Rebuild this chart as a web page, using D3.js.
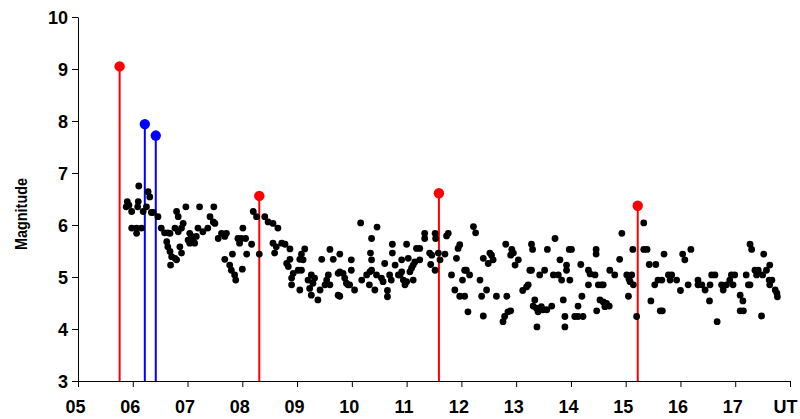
<!DOCTYPE html>
<html>
<head>
<meta charset="utf-8">
<script src="https://cdn.jsdelivr.net/npm/d3@7"></script>
<style>
  body { margin: 0; background: #fff; }
  text { font-family: "Liberation Sans", Arial, sans-serif; font-weight: bold; fill: #000; }
</style>
</head>
<body>
<div id="chart"></div>
<script>
// axis ticks
var yTicks = [3, 4, 5, 6, 7, 8, 9, 10];
var xTicks = [5, 6, 7, 8, 9, 10, 11, 12, 13, 14, 15, 16, 17, 18];
var xTickLabels = ["05", "06", "07", "08", "09", "10", "11", "12", "13", "14", "15", "16", "17", "UT"];

// big events: [UT hour, magnitude]
var redEvents = [[5.76, 9.05], [8.31, 6.56], [11.59, 6.61], [15.22, 6.37]];
var blueEvents = [[6.22, 7.94], [6.42, 7.72]];

// aftershocks: [UT hour, magnitude]
var dots = [
  [6.11,6.75],[6.28,6.64],[6.31,6.54],[5.90,6.45],[5.88,6.35],[5.93,6.38],[6.10,6.45],[6.09,6.35],
  [5.98,6.26],[6.19,6.26],[6.25,6.35],[6.34,6.24],[6.37,6.24],[6.46,6.16],[5.98,5.94],[6.07,5.94],
  [6.16,5.94],[6.07,5.84],[6.52,5.94],[6.58,5.85],[6.64,5.85],[6.68,5.84],[6.62,5.68],[6.64,5.58],
  [6.68,5.49],[6.71,5.39],[6.77,5.36],[6.69,5.23],[6.86,5.58],[6.89,5.46],[6.80,5.33],[6.80,6.26],
  [6.83,6.16],[6.97,6.35],[6.77,5.94],[6.83,5.87],[6.89,5.94],[6.92,6.03],[7.04,5.84],[7.07,5.78],
  [7.01,5.71],[7.10,5.68],[7.16,5.78],[7.13,5.65],[7.04,5.65],[7.22,6.35],[7.19,5.94],[7.28,5.87],
  [7.37,5.94],[7.41,6.16],[7.47,6.06],[7.50,6.03],[7.48,6.35],[7.56,5.74],[7.62,5.84],[7.68,5.78],
  [7.71,5.84],[7.68,5.34],[7.82,5.44],[7.77,5.23],[7.80,5.13],[7.86,5.04],[7.88,4.94],[8.00,5.15],
  [7.92,5.74],[7.98,5.74],[8.06,5.74],[7.95,5.65],[8.01,5.94],[8.08,5.44],[8.17,5.63],[8.31,5.44],
  [8.20,6.26],[8.26,6.16],[8.41,6.16],[8.47,6.06],[8.56,6.03],[8.65,5.94],[8.56,5.65],[8.62,5.58],
  [8.72,5.65],[8.78,5.63],[8.59,5.46],[8.87,5.54],[8.87,5.34],[8.81,5.26],[8.84,5.20],[9.14,5.54],
  [9.08,5.44],[9.05,5.34],[9.11,5.33],[9.02,5.13],[9.08,5.13],[8.93,5.07],[8.90,4.98],[8.90,4.85],
  [9.05,4.75],[9.26,5.04],[9.32,4.98],[9.20,4.94],[9.29,4.88],[9.23,4.78],[9.26,4.65],[9.42,4.75],
  [9.38,4.56],[9.45,5.34],[9.60,5.53],[9.66,5.34],[9.57,5.04],[9.54,4.94],[9.60,4.85],[9.51,4.85],
  [9.75,5.07],[9.75,4.65],
  [9.78,5.44],[9.78,5.10],[9.84,5.07],[9.87,4.98],[9.90,4.88],[9.93,4.85],[9.96,4.85],[9.78,4.63],
  [9.99,5.33],[9.99,5.13],[10.05,4.75],[10.16,6.04],[10.18,4.94],[10.27,5.04],[10.33,5.10],[10.36,5.13],
  [10.32,4.85],[10.42,4.75],[10.36,5.74],[10.34,5.46],[10.36,5.33],[10.46,5.96],[10.45,5.04],[10.54,4.98],
  [10.57,4.91],[10.60,5.26],[10.65,4.74],[10.65,4.62],[10.69,5.04],[10.72,4.94],[10.74,5.63],[10.74,5.46],
  [10.79,5.23],[10.85,5.04],[10.88,5.04],[10.91,5.33],[10.91,5.10],[10.94,4.94],[10.97,4.85],[11.00,4.91],
  [11.00,5.63],[11.03,5.36],[11.06,5.10],[11.09,5.17],[11.12,5.23],[11.15,5.29],[11.12,4.94],[11.18,5.55],
  [11.24,5.55],[11.24,5.33],[11.33,5.84],[11.33,5.74],[11.42,5.46],[11.46,5.42],[11.44,5.24],[11.52,5.13],
  [11.52,5.84],[11.53,5.74],[11.58,5.46],[11.61,5.33],[11.70,5.44],[11.73,5.79],[11.76,5.84],[11.82,5.04],
  [11.88,4.75],[11.97,4.63],[12.06,4.63],[11.91,5.36],[11.94,5.55],[11.97,5.62],[12.02,4.94],[12.06,5.13],
  [12.09,5.13],[12.12,4.33],[12.15,5.04],[12.22,5.97],[12.26,5.85],[12.34,4.94],[12.37,4.63],[12.40,4.25],
  [12.46,4.75],[12.40,5.36],[12.49,5.26],[12.55,5.42],[12.58,5.33],[12.52,5.46],[12.64,4.63],[12.76,4.14],
  [12.79,4.24],[12.85,4.33],[12.90,4.35],[12.83,4.63],[12.81,5.63],[12.92,5.53],[12.95,5.46],[12.90,5.42],
  [13.04,5.33],[12.98,5.23],[13.12,4.74],[13.19,4.81],[13.22,4.85],[13.25,5.13],[13.28,5.13],[13.28,5.63],
  [13.30,5.53],[13.34,4.56],[13.31,4.44],[13.37,4.40],[13.40,4.33],[13.46,4.43],[13.49,4.37],[13.56,4.37],
  [13.65,4.44],[13.38,4.04],[13.43,5.04],[13.52,5.13],[13.57,5.53],[13.71,5.74],[13.68,5.04],[13.77,5.04],
  [13.83,4.94],[13.80,5.33],[13.86,4.56],[13.89,4.24],[13.89,4.04],[13.92,5.23],[13.92,5.13],[13.97,5.53],
  [14.01,5.53],[13.98,4.94],[14.07,4.24],[14.13,4.24],[14.22,4.24],[14.13,4.44],[14.20,4.63],[14.18,5.24],
  [14.32,5.13],[14.35,5.06],[14.44,5.04],[14.32,4.85],[14.46,5.53],[14.46,5.44],[14.50,4.85],[14.56,4.85],
  [14.59,4.85],[14.47,4.35],[14.53,4.56],[14.59,4.52],[14.62,4.43],[14.65,4.49],[14.70,4.44],[14.71,5.13],
  [14.80,5.04],[14.89,5.34],[14.93,5.84],[15.02,5.04],[15.06,4.96],[15.11,5.04],[15.08,4.91],[15.13,5.53],
  [15.05,4.63],[15.14,4.85],[15.20,4.24],[15.33,6.04],[15.33,5.53],[15.39,5.53],[15.43,5.24],[15.55,5.24],
  [15.46,4.54],[15.53,4.85],[15.59,4.94],[15.66,4.94],[15.63,4.35],[15.67,4.35],[15.70,5.44],[15.78,5.04],
  [15.84,5.04],[15.81,4.94],[15.93,4.94],[16.00,4.74],[16.04,5.44],[16.08,5.33],[16.14,4.85],[16.19,5.53],
  [16.32,4.94],[16.39,4.85],[16.45,4.75],[16.32,4.85],[16.54,4.85],[16.57,5.04],[16.63,5.04],[16.53,4.54],
  [16.67,4.14],[16.75,4.85],[16.78,4.75],[16.84,4.85],[16.90,4.94],[16.93,5.04],[16.99,5.04],[16.96,4.85],
  [17.09,4.65],[17.14,4.54],[17.09,4.35],[17.15,4.35],[17.20,5.04],[17.24,4.85],[17.27,4.85],[17.27,5.63],
  [17.30,5.53],[17.36,5.13],[17.42,5.13],[17.39,5.04],[17.50,5.04],[17.48,4.25],[17.52,5.44],[17.57,5.13],
  [17.63,5.23],[17.62,4.94],[17.67,4.94],[17.63,4.85],[17.73,4.75],[17.76,4.69],[17.77,4.62]
];

var width = 800, height = 419;

var svg = d3.select("#chart").append("svg")
    .attr("width", width)
    .attr("height", height);

var x = d3.scaleLinear().domain([5, 18]).range([0, 712]);
var y = d3.scaleLinear().domain([3, 10]).range([364, 0]);

// plot area origin
var g = svg.append("g").attr("transform", "translate(78,17)");

// y axis
var gy = g.append("g")
    .call(d3.axisLeft(y).tickValues(yTicks).tickSize(6).tickSizeOuter(0).tickPadding(4).tickFormat(d3.format("d")));
gy.selectAll("text").style("font-size", "18px").attr("dy", "0.36em");

// x axis with "UT" as last label
var gx = g.append("g")
    .attr("transform", "translate(0,364)")
    .call(d3.axisBottom(x).tickValues(xTicks).tickSize(6).tickSizeOuter(0).tickPadding(13)
      .tickFormat(function(d, i) { return xTickLabels[i]; }));
gx.selectAll("text").style("font-size", "18px").attr("dx", function(d, i) { return i == xTicks.length - 1 ? "-5" : "-3"; });

g.selectAll(".domain, .tick line").attr("stroke", "#000");

// axis title
svg.append("text")
    .attr("transform", "translate(27,214) rotate(-90)")
    .attr("text-anchor", "middle")
    .attr("textLength", 72)
    .attr("lengthAdjust", "spacingAndGlyphs")
    .style("font-size", "17px")
    .text("Magnitude");

// stems for big events
function drawEvents(data, color) {
  g.selectAll(null)
      .data(data)
      .enter()
      .append("line")
      .attr("x1", function(d) { return x(d[0]); })
      .attr("x2", function(d) { return x(d[0]); })
      .attr("y1", function(d) { return y(d[1]); })
      .attr("y2", y(3))
      .attr("stroke", color)
      .attr("stroke-width", 2);
}
drawEvents(redEvents, "#ff0000");
drawEvents(blueEvents, "#0000ff");

// aftershock dots
g.selectAll(".dot")
    .data(dots)
    .enter()
    .append("circle")
    .attr("class", "dot")
    .attr("cx", function(d) { return x(d[0]); })
    .attr("cy", function(d) { return y(d[1]); })
    .attr("r", 3.4)
    .attr("fill", "#000");

// markers on top of stems
function drawHeads(data, color) {
  g.selectAll(null)
      .data(data)
      .enter()
      .append("circle")
      .attr("cx", function(d) { return x(d[0]); })
      .attr("cy", function(d) { return y(d[1]); })
      .attr("r", 5.2)
      .attr("fill", color);
}
drawHeads(redEvents, "#ff0000");
drawHeads(blueEvents, "#0000ff");
</script>
</body>
</html>
